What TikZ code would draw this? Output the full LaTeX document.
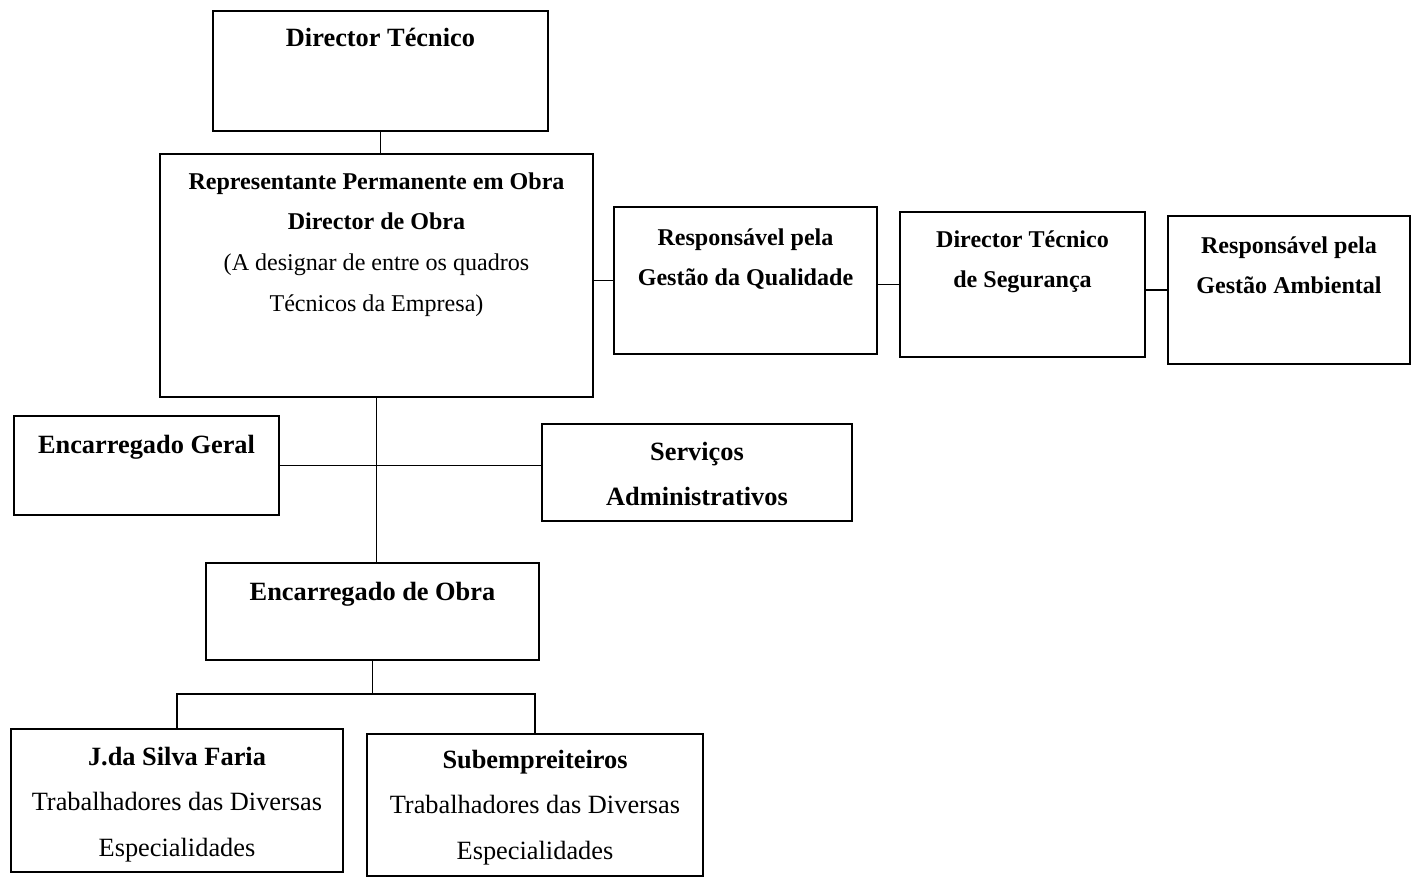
\documentclass[tikz,border=0pt]{standalone}
\usepackage{fontspec}
\setmainfont{Liberation Serif}
\usetikzlibrary{positioning}
\newlength{\pxl}
\setlength{\pxl}{0.2mm}
\tikzset{
  every picture/.style={line width=1.1pt},
  unit/.style={draw,rectangle,inner sep=0pt},
  big/.style={font=\fontsize{15pt}{25.9pt}\selectfont},
  med/.style={font=\fontsize{13.7pt}{23.3pt}\selectfont},
}
% width, height, first baseline from top (px), text
\newcommand{\orgcell}[4]{\parbox[b][#2\pxl][t]{#1\pxl}{\centering\rule{0pt}{#3\pxl}#4}}

\begin{document}
\begin{tikzpicture}[x=0.2mm,y=-0.2mm]
\useasboundingbox (0,0) rectangle (1418,877);
% top
\node[unit,big] (DT) at (380.5,71) {\orgcell{335}{120}{35}{\textbf{Director Técnico}}};
\node[unit,med] (RP) at (376.5,275.5) {\orgcell{433}{243}{35}{\textbf{Representante Permanente em Obra}\\
  \textbf{Director de Obra}\\(A designar de entre os quadros\\Técnicos da Empresa)}};
% staff to the right
\node[unit,med] (RQ) at (745.5,280.5) {\orgcell{263}{147}{38}{\textbf{Responsável pela}\\\textbf{Gestão da Qualidade}}};
\node[unit,med] (DS) at (1022.5,284.5) {\orgcell{245}{145}{35}{\textbf{Director Técnico}\\\textbf{de Segurança}}};
\node[unit,med] (GA) at (1289,290) {\orgcell{242}{148}{37}{\textbf{Responsável pela}\\\textbf{Gestão Ambiental}}};
% middle
\node[unit,big] (EG) at (146.5,465.5) {\orgcell{265}{99}{37}{\textbf{Encarregado Geral}}};
\node[unit,big] (SA) at (697,472.5) {\orgcell{310}{97}{36}{\textbf{Serviços}\\\textbf{Administrativos}}};
\node[unit,big] (EO) at (372.5,611.5) {\orgcell{333}{97}{37}{\textbf{Encarregado de Obra}}};
% bottom
\node[unit,big] (JSF) at (177,800.5) {\orgcell{332}{143}{36}{\textbf{J.da Silva Faria}\\Trabalhadores das Diversas\\Especialidades}};
\node[unit,big] (SUB) at (535,805) {\orgcell{336}{142}{34}{\textbf{Subempreiteiros}\\Trabalhadores das Diversas\\Especialidades}};
% lines
\draw (DT.south) -- (DT.south |- RP.north);
\draw (RQ.west) -- (RQ.west -| RP.east);
\draw (DS.west) -- (DS.west -| RQ.east);
\draw (GA.west) -- (GA.west -| DS.east);
\draw (RP.south) -- (RP.south |- EO.north);
\draw (EG.east) -- (EG.east -| SA.west);
\coordinate[below=6.6mm of EO.south] (fork);
\draw (EO.south) -- (fork);
\draw (JSF.north) |- (fork) -| (SUB.north);
\end{tikzpicture}
\end{document}
